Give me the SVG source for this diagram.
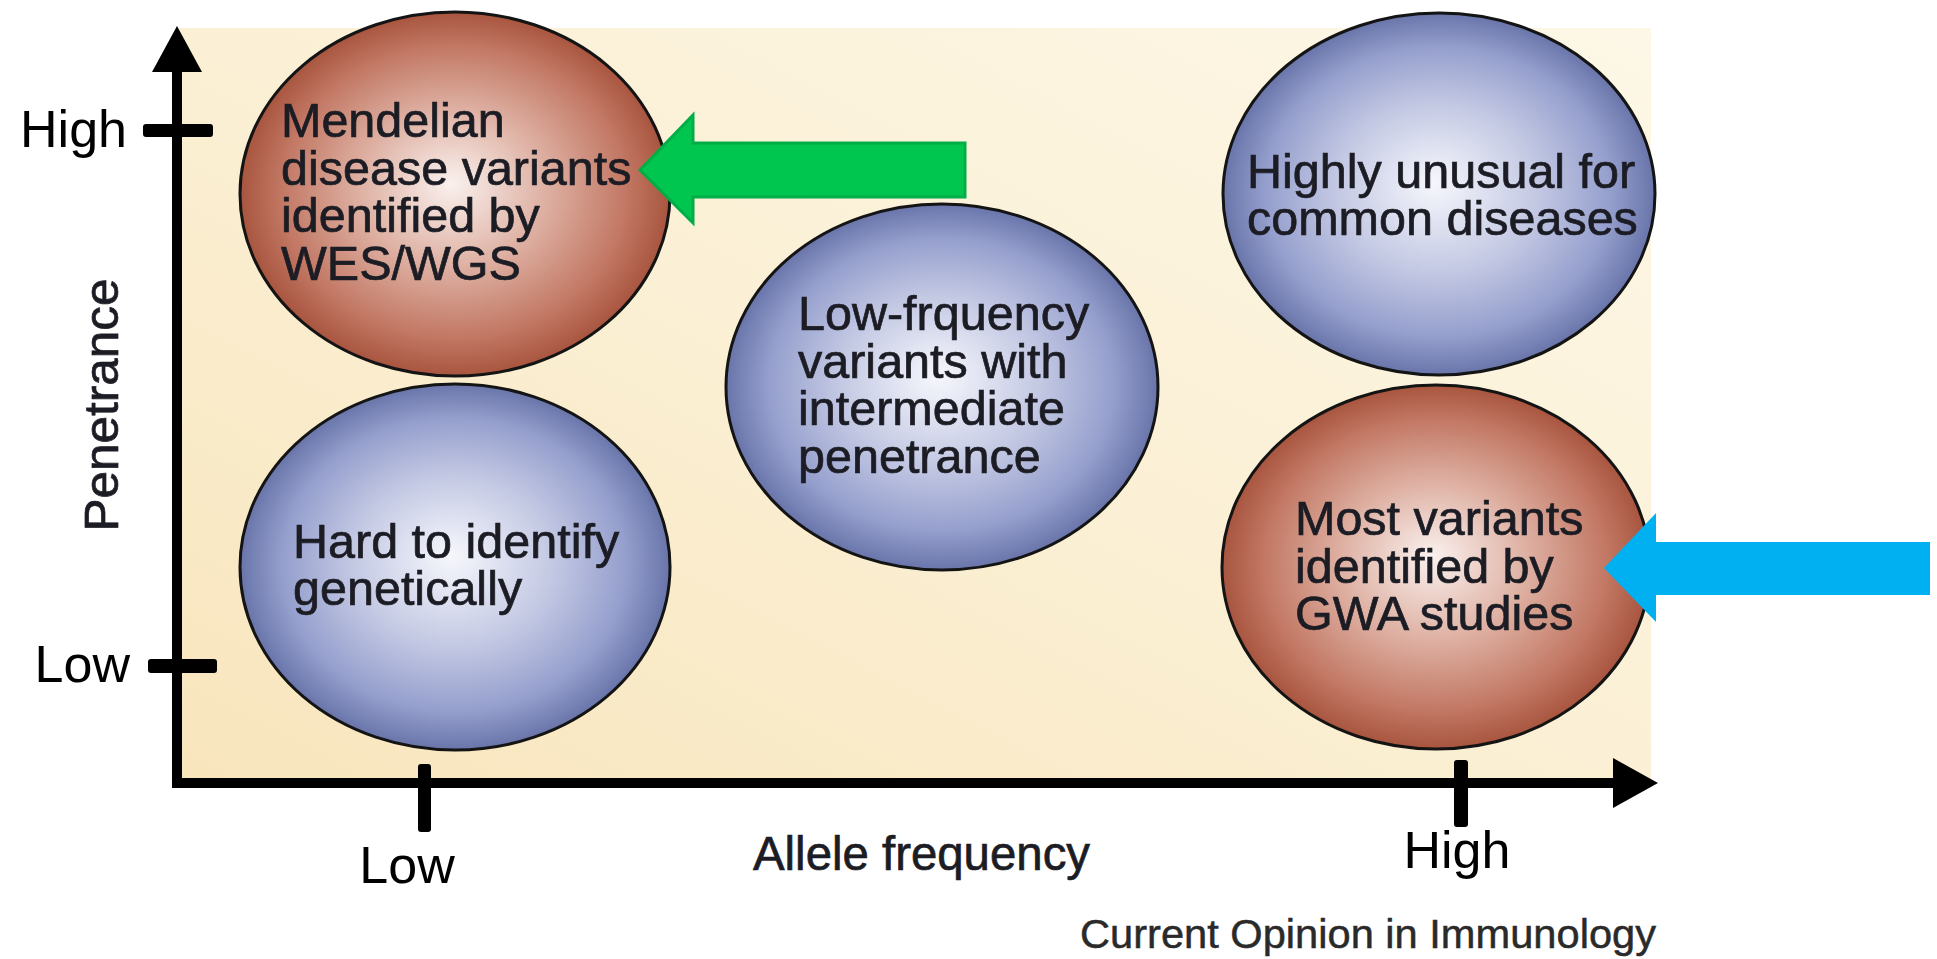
<svg xmlns="http://www.w3.org/2000/svg" width="1937" height="959" viewBox="0 0 1937 959">
<defs>
<linearGradient id="bg" x1="0" y1="1" x2="1" y2="0">
<stop offset="0" stop-color="#f8e5bc"/>
<stop offset="0.5" stop-color="#fbf0d5"/>
<stop offset="1" stop-color="#fdf7e7"/>
</linearGradient>
<radialGradient id="red" cx="0.5" cy="0.5" r="0.5" fx="0.49" fy="0.47">
<stop offset="0" stop-color="#faf1ee"/>
<stop offset="0.45" stop-color="#ddaea0"/>
<stop offset="0.8" stop-color="#c27864"/>
<stop offset="1" stop-color="#a8553f"/>
</radialGradient>
<radialGradient id="blue" cx="0.5" cy="0.5" r="0.5" fx="0.49" fy="0.47">
<stop offset="0" stop-color="#f6f7fc"/>
<stop offset="0.45" stop-color="#c5cae4"/>
<stop offset="0.8" stop-color="#959fcd"/>
<stop offset="1" stop-color="#6975aa"/>
</radialGradient>
<style>
.node ellipse{stroke:#141414;stroke-width:3}
.red{fill:url(#red)}
.blue{fill:url(#blue)}
.lbl{font-family:"Liberation Sans",Arial,Helvetica,sans-serif;font-size:48.5px;fill:#1c1c24;stroke:#1c1c24;stroke-width:0.7px}
.ax{font-family:"Liberation Sans",Arial,Helvetica,sans-serif;font-size:52px;fill:#000}
.tick{fill:#000}
.small{font-family:"Liberation Sans",Arial,Helvetica,sans-serif;font-size:40px;fill:#2a2a2a;stroke:#2a2a2a;stroke-width:0.5px}
</style>
</defs>
<rect width="1937" height="959" fill="#ffffff"/>
<rect x="177" y="28" width="1474" height="755" fill="url(#bg)"/>

<g id="axes">
<path d="M177,68 V783 H1616" fill="none" stroke="#000" stroke-width="10" stroke-linejoin="miter"/>
<polygon points="177,26 202,72 152,72" fill="#000"/>
<polygon points="1658,783 1613,758 1613,808" fill="#000"/>
<rect class="tick" x="143" y="124" width="70" height="13" rx="3"/>
<rect class="tick" x="148" y="659" width="69" height="14" rx="3"/>
<rect class="tick" x="418" y="764" width="13" height="68" rx="3"/>
<rect class="tick" x="1454" y="760" width="14" height="67" rx="3"/>
<text class="ax" x="127" y="147" text-anchor="end">High</text>
<text class="ax" x="130" y="682" text-anchor="end">Low</text>
<text class="ax" x="407" y="883" text-anchor="middle">Low</text>
<text class="ax" x="1457" y="868" text-anchor="middle">High</text>
<text class="lbl" transform="translate(118,405) rotate(-90)" text-anchor="middle" textLength="253" lengthAdjust="spacingAndGlyphs">Penetrance</text>
<text class="lbl" x="753" y="870" textLength="337" lengthAdjust="spacingAndGlyphs">Allele frequency</text>
<text class="small" x="1080" y="948" textLength="576" lengthAdjust="spacingAndGlyphs">Current Opinion in Immunology</text>
</g>

<g id="node-mendelian" class="node">
<ellipse class="red" cx="455" cy="194" rx="215" ry="182"/>
<text class="lbl"><tspan x="281" y="137">Mendelian</tspan><tspan x="281" y="185">disease variants</tspan><tspan x="281" y="232">identified by</tspan><tspan x="281" y="280">WES/WGS</tspan></text>
</g>

<g id="node-hard" class="node">
<ellipse class="blue" cx="455" cy="567" rx="215" ry="183"/>
<text class="lbl"><tspan x="293" y="558">Hard to identify</tspan><tspan x="293" y="605">genetically</tspan></text>
</g>

<g id="node-lowfreq" class="node">
<ellipse class="blue" cx="942" cy="387" rx="216" ry="183"/>
<text class="lbl"><tspan x="798" y="330">Low-frquency</tspan><tspan x="798" y="378">variants with</tspan><tspan x="798" y="425">intermediate</tspan><tspan x="798" y="473">penetrance</tspan></text>
</g>

<g id="node-unusual" class="node">
<ellipse class="blue" cx="1439" cy="194" rx="216" ry="181"/>
<text class="lbl"><tspan x="1247" y="188">Highly unusual for</tspan><tspan x="1247" y="235">common diseases</tspan></text>
</g>

<g id="node-gwas" class="node">
<ellipse class="red" cx="1436" cy="567" rx="214" ry="182"/>
<text class="lbl"><tspan x="1295" y="535">Most variants</tspan><tspan x="1295" y="583">identified by</tspan><tspan x="1295" y="630">GWA studies</tspan></text>
</g>

<g id="connectors">
<polygon id="arrow-green" points="640,170 693,115 693,143 965,143 965,197 693,197 693,223" fill="#00c54f" stroke="#00ae48" stroke-width="3" stroke-linejoin="miter"/>
<polygon id="arrow-blue" points="1604,568 1656,513 1656,542 1930,542 1930,595 1656,595 1656,622" fill="#00b0f0"/>
</g>
</svg>
